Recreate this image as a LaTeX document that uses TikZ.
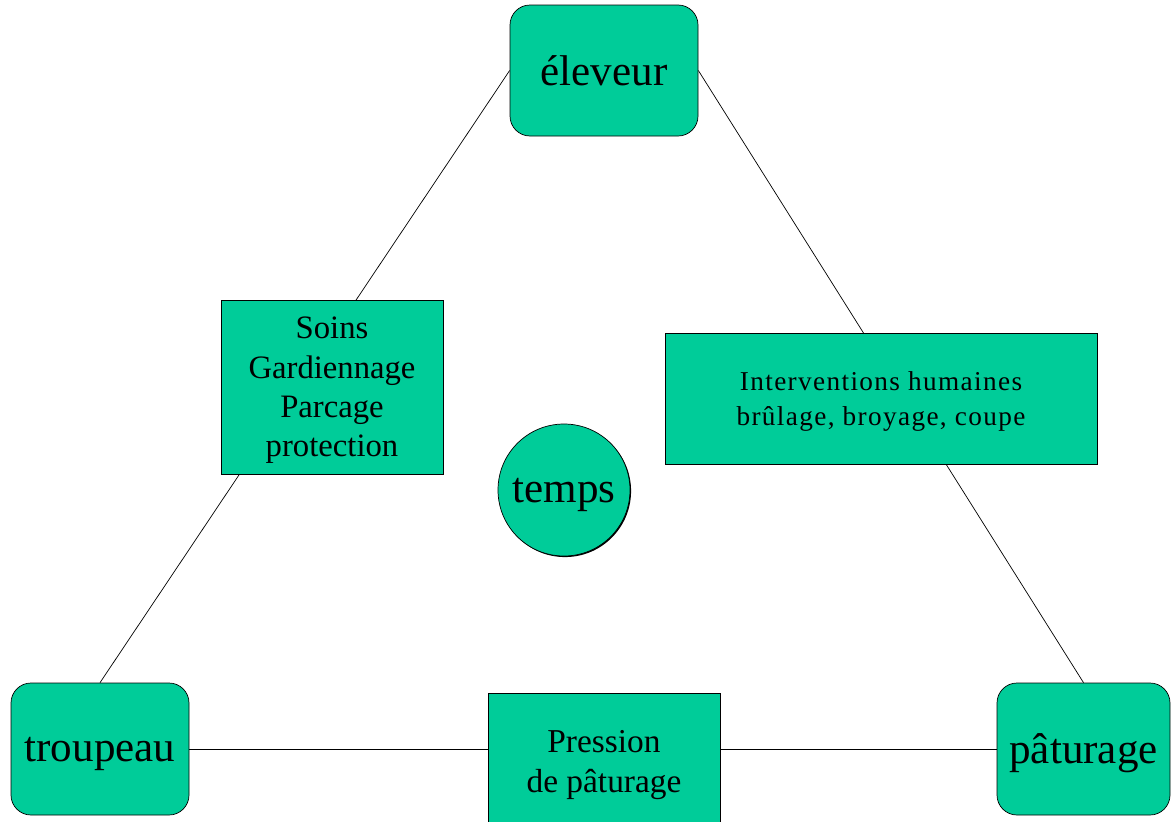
\documentclass[tikz,border=0pt]{standalone}
\usepackage{fontspec}
\setmainfont{Liberation Serif}
\usepackage{tikz}
\usetikzlibrary{calc,shapes,positioning,backgrounds,shadows}

\definecolor{vert}{RGB}{0,204,153}

\begin{document}
\begin{tikzpicture}
    \useasboundingbox (0,0) rectangle (23.42,-16.42);

    \tikzstyle{pnode} = [draw=black, fill=vert, rounded corners = 0.4cm, align=center, inner sep = 2pt, text depth = 0pt, font=\fontsize{24.5}{28}\selectfont]
    \tikzstyle{tnode} = [draw=black, fill=vert, rectangle, align=center, inner sep = 2pt, text depth = 0pt]

    % poles
    \node[pnode, minimum width=3.76cm, minimum height=2.62cm] (eleveur) at (12.08,-1.41) {éleveur};
    \node[pnode, minimum width=3.56cm, minimum height=2.64cm] (troupeau) at (2.0,-14.98) {troupeau};
    \node[pnode, minimum width=3.46cm, minimum height=2.64cm] (paturage) at (21.67,-14.98) {pâturage};

    % relations
    \node[tnode, minimum width=4.44cm, minimum height=3.48cm, font=\fontsize{18.6}{22.4}\selectfont] (soins) at (6.64,-7.74)
      {Soins\\Gardiennage\\Parcage\\protection};
    \node[tnode, minimum width=8.64cm, minimum height=2.62cm, font=\fontsize{15.5}{19.8}\selectfont\addfontfeatures{LetterSpace=5}] (interv) at (17.62,-7.97)
      {Interventions humaines\\brûlage, broyage, coupe};
    \node[tnode, minimum width=4.64cm, minimum height=2.72cm, font=\fontsize{19}{22.7}\selectfont] (pression) at (12.08,-15.22)
      {Pression\\de pâturage};

    % centre
    \node[draw=black, fill=vert, circle, minimum size=2.64cm, inner sep=0pt, text depth=0pt, font=\fontsize{24.5}{28}\selectfont,
      drop shadow={shadow xshift=0.6pt, shadow yshift=-0.6pt, fill=black, opacity=1}] (temps) at (11.28,-9.8) {temps};

    \begin{scope}[on background layer]
      \draw[-] (eleveur.west) -- (troupeau.north);
      \draw[-] (eleveur.east) -- (paturage.north);
      \draw[-] (troupeau.east) -- (paturage.west);
    \end{scope}
\end{tikzpicture}
\end{document}
